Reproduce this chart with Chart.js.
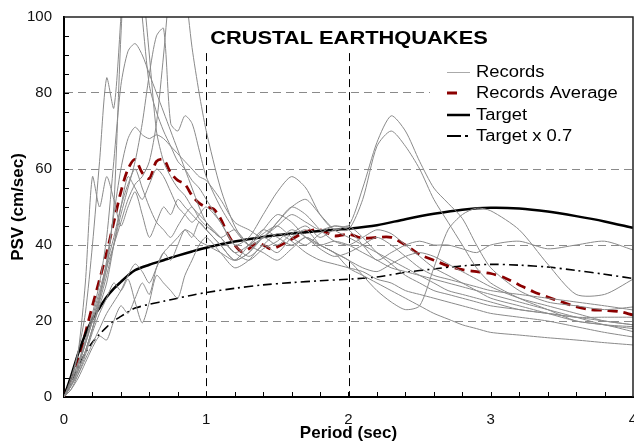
<!DOCTYPE html>
<html>
<head>
    <title>Crustal Earthquakes PSV</title>
    <script src="https://cdn.jsdelivr.net/npm/chart.js"></script>
    <style>
        body { margin: 0; background: #fff; }
    </style>
</head>
<body>
    <canvas id="psvChart" width="634" height="445"></canvas>

    <script>
        // shared period grid for the records
        const period = [0, 0.05, 0.1, 0.15, 0.2, 0.25, 0.3, 0.35, 0.4, 0.45,
            0.5, 0.55, 0.6, 0.65, 0.7, 0.75, 0.8, 0.85, 0.9, 0.95,
            1.0, 1.1, 1.2, 1.3, 1.4, 1.5, 1.6, 1.7, 1.8, 1.9,
            2.0, 2.1, 2.2, 2.3, 2.4, 2.5, 2.6, 2.7, 2.8, 2.9,
            3.0, 3.2, 3.4, 3.6, 3.8, 4.0];

        const records = [
            [0,3,8,14,20,26,34,50,95,125, 120,100,82,75,70,66,62,60,57,55, 52,46,40,37,40,43,41,38,36,35, 34,33,31,30,28,27,26,25,24,23, 22,21,20,18.5,17,15.8],
            [0,4,9,15,22,30,42,62,82,91, 93,90,85,80,75,70,65,60,55,50, 46,42,44,40,38,36,39,42,40,38, 36,34,33,35,37,38,37,35,33,31, 29,26,24,22,20,19],
            [0,5,12,22,40,62,84,76,100,130, 125,110,90,70,62,58,55,53,50,48, 46,42,38,36,39,41,44,42,39,37, 38,40,42,40,37,34,32,31,30,29, 28,27,26,25,24,22.9],
            [0,3,7,12,18,25,32,40,48,55, 62,72,85,95,97,72,70,74,72,65, 58,50,44,40,42,46,50,48,44,41, 40,42,44,43,40,37,34,32,30,28, 26,24,22,20,19,18.5],
            [0,4,9,14,20,27,34,40,46,52, 56,58,62,72,90,110,118,108,92,80, 70,55,45,40,44,48,46,42,40,41, 40,38,36,34,33,32,31,30,29,28, 27,25,23,21,19,18],
            [0,3,7,12,18,26,36,48,60,68, 71,69,68,69,68,66,64,62,60,58, 57,52,46,44,42,46,50,52,48,44, 42,40,38,36,34,32,30,28,27,26, 25,23,22,21,20,19],
            [0,2,6,11,17,22,26,30,28,31, 25,19.5,25,32,30,28,26,32,36,40, 42,38,34,36,40,38,42,44,40,38, 34,32,30,28,26,24,22,20.5,19,18, 17,16.3,15.6,15,14.3,13.7],
            [0,2,5,9,13,16,15,20,24,22, 26,30,27,34,38,36,40,44,42,46, 44,40,36,38,42,45,48,46,44,45, 44,40,36,38,40,41,40,40,39,38, 40,41,39,40,41,38.7],
            [0,3,7,12,18,24,30,40,50,58, 55,52,56,60,58,54,50,48,46,48, 50,46,40,42,48,54,58,55,48,44, 45,42,38,35,32,30,28,27,26,25, 24,23,22,21,21,21],
            [0,3,8,14,21,28,35,42,50,56, 60,55,50,46,44,42,45,48,50,47, 45,42,38,40,43,45,42,40,43,45, 45,55,67,74,70,62,55,51,47,40, 34,28,25,24,23,23.7],
            [0,4,12,30,58,50,58,52,45,50, 54,48,42,46,50,48,52,50,48,46, 44,40,36,38,42,40,43,45,42,44, 44,52,66,70,66,60,52,46,40,34, 30,26,23,20,19,17.2],
            [0,3,6,10,14,18,22,25,28,32, 35,33,30,34,38,40,42,44,43,41, 40,38,36,40,44,42,40,42,40,38, 36,32,28,25,23,24,34,44,48,49.7, 49,44,35,27,27,31]
        ];

        const avgPeriod = [0, 0.1, 0.2, 0.3, 0.35, 0.4, 0.45, 0.5, 0.55, 0.6, 0.65, 0.7, 0.75, 0.8, 0.85, 0.9, 0.95,
            1.0, 1.05, 1.1, 1.15, 1.2, 1.25, 1.3, 1.35, 1.4, 1.45, 1.5, 1.6, 1.7, 1.8, 1.9,
            2.0, 2.1, 2.2, 2.3, 2.4, 2.5, 2.6, 2.7, 2.8, 2.9, 3.0, 3.1, 3.2, 3.3, 3.4, 3.5, 3.6, 3.7, 3.8, 3.9, 4.0];
        const recordsAverage = [0, 10, 24, 38, 46, 54, 60, 62.5, 59, 57.5, 62, 62.5, 59, 57, 56, 53, 51,
            50, 49.5, 47, 43, 40, 38.2, 39, 40.5, 40, 39, 39.5, 41.5, 43.5, 44, 42.4,
            42.8, 41.8, 42, 42, 40, 37.5, 36, 34.5, 33.5, 33, 32.5, 31.3, 29.5, 27.7, 26.3, 25, 23.8, 23, 22.8, 22.5, 21.6];

        const targetPeriod = [0, 0.05, 0.1, 0.15, 0.2, 0.25, 0.3, 0.35, 0.4, 0.45, 0.5, 0.6, 0.7, 0.8, 0.9,
            1.0, 1.2, 1.4, 1.6, 1.8, 2.0, 2.2, 2.4, 2.6, 2.8, 3.0, 3.2, 3.4, 3.6, 3.8, 4.0];
        const target = [0, 5.5, 11.5, 16.5, 20.5, 23.5, 26.3, 28.5, 30.3, 32, 33.4, 34.8, 36, 37.2, 38.3,
            39.3, 40.9, 42.1, 43, 43.7, 44.3, 45.2, 46.8, 48.2, 49.3, 49.8, 49.6, 48.8, 47.6, 46.2, 44.5];
        const target07 = [0, 3.9, 8, 11.6, 14.4, 16.5, 18.4, 20, 21.2, 22.4, 23.4, 24.4, 25.2, 26, 26.8,
            27.5, 28.6, 29.5, 30.1, 30.6, 31, 31.6, 32.8, 33.7, 34.5, 34.9, 34.7, 34.2, 33.3, 32.3, 31.2];

        const xTicks = [0, 1, 2, 3, 4];
        const yTicks = [0, 20, 40, 60, 80, 100];
        const legendLabels = ['Records', 'Records Average', 'Target', 'Target x 0.7'];
        const chartTitle = 'CRUSTAL EARTHQUAKES';

        const FONT = 'Arial, "Liberation Sans", sans-serif';
        const GRAY = '#8a8a8a';
        const RED = '#8b0000';

        function pts(xs, ys) {
            return xs.map((x, i) => ({ x: x, y: ys[i] }));
        }

        const datasets = records.map(r => ({
            data: pts(period, r),
            borderColor: GRAY,
            borderWidth: 1,
            tension: 0.25
        }));
        datasets.push({
            data: pts(targetPeriod, target07),
            borderColor: '#000',
            borderWidth: 1.6,
            borderDash: [9, 4, 2, 4],
            tension: 0.3
        });
        datasets.push({
            data: pts(targetPeriod, target),
            borderColor: '#000',
            borderWidth: 2.5,
            tension: 0.3
        });
        datasets.push({
            data: pts(avgPeriod, recordsAverage),
            borderColor: RED,
            borderWidth: 2.8,
            borderDash: [10, 6],
            tension: 0.3
        });

        // title, legend, frame, minor ticks, vertical marker lines
        const decor = {
            id: 'decor',
            beforeDatasetsDraw(chart) {
                const { ctx, chartArea: a, scales: { x, y } } = chart;
                ctx.save();
                // legend box covers the grid
                ctx.fillStyle = '#fff';
                ctx.fillRect(430, 60, a.right - 431, 86);
                // dashed verticals at 1 and 2 sec
                ctx.strokeStyle = '#000';
                ctx.lineWidth = 1;
                ctx.setLineDash([8, 5]);
                [1, 2].forEach(v => {
                    const px = Math.round(x.getPixelForValue(v)) + 0.5;
                    ctx.beginPath();
                    ctx.moveTo(px, y.getPixelForValue(90.5));
                    ctx.lineTo(px, a.bottom);
                    ctx.stroke();
                });
                ctx.restore();
            },
            afterDraw(chart) {
                const { ctx, chartArea: a, scales: { x, y } } = chart;
                ctx.save();
                // frame top and right
                ctx.strokeStyle = '#222';
                ctx.lineWidth = 1.5;
                ctx.beginPath();
                ctx.moveTo(a.left, a.top);
                ctx.lineTo(a.right, a.top);
                ctx.lineTo(a.right, a.bottom);
                ctx.stroke();

                // minor ticks
                ctx.strokeStyle = '#000';
                ctx.lineWidth = 1;
                for (let v = 0.2; v < 4; v += 0.2) {
                    const px = Math.round(x.getPixelForValue(v)) + 0.5;
                    ctx.beginPath();
                    ctx.moveTo(px, a.bottom);
                    ctx.lineTo(px, a.bottom - 5);
                    ctx.stroke();
                }
                for (let v = 5; v < 100; v += 5) {
                    const py = Math.round(y.getPixelForValue(v)) + 0.5;
                    ctx.beginPath();
                    ctx.moveTo(a.left, py);
                    ctx.lineTo(a.left + 5, py);
                    ctx.stroke();
                }

                // title
                ctx.fillStyle = '#000';
                ctx.textBaseline = 'middle';
                ctx.save();
                ctx.translate(349, 39);
                ctx.scale(1.15, 1);
                ctx.font = 'bold 19px ' + FONT;
                ctx.textAlign = 'center';
                ctx.fillText(chartTitle, 0, 0);
                ctx.restore();

                // legend
                const rows = [72, 93, 115, 136];
                const x0 = 447, x1 = 470;
                ctx.lineCap = 'butt';
                ctx.strokeStyle = '#aaa';
                ctx.lineWidth = 1;
                ctx.beginPath(); ctx.moveTo(x0, rows[0] + 0.5); ctx.lineTo(x1, rows[0] + 0.5); ctx.stroke();
                ctx.strokeStyle = RED;
                ctx.lineWidth = 3;
                ctx.beginPath(); ctx.moveTo(x0, rows[1]); ctx.lineTo(x0 + 10, rows[1]); ctx.stroke();
                ctx.strokeStyle = '#000';
                ctx.lineWidth = 2.5;
                ctx.beginPath(); ctx.moveTo(x0, rows[2]); ctx.lineTo(x1, rows[2]); ctx.stroke();
                ctx.lineWidth = 2;
                ctx.beginPath(); ctx.moveTo(x0, rows[3]); ctx.lineTo(x0 + 14, rows[3]); ctx.stroke();
                ctx.beginPath(); ctx.moveTo(x0 + 18, rows[3]); ctx.lineTo(x0 + 21, rows[3]); ctx.stroke();

                ctx.fillStyle = '#000';
                ctx.textAlign = 'left';
                legendLabels.forEach((t, i) => {
                    ctx.save();
                    ctx.translate(476, rows[i]);
                    ctx.scale(1.15, 1);
                    ctx.font = '16px ' + FONT;
                    ctx.fillText(t, 0, 1);
                    ctx.restore();
                });
                ctx.restore();
            }
        };

        const ctx = document.getElementById('psvChart').getContext('2d');
        new Chart(ctx, {
            type: 'scatter',
            data: { datasets: datasets },
            plugins: [decor],
            options: {
                responsive: false,
                animation: false,
                showLine: true,
                elements: { point: { radius: 0 } },
                layout: { padding: { top: 17, right: 1, left: 0, bottom: 0 } },
                plugins: {
                    legend: { display: false },
                    tooltip: { enabled: false }
                },
                scales: {
                    x: {
                        type: 'linear',
                        min: 0,
                        max: 4,
                        afterFit: s => { s.height = 48; s.paddingLeft = 0; s.paddingRight = 0; },
                        afterBuildTicks: s => { s.ticks = xTicks.map(v => ({ value: v })); },
                        grid: { display: false, drawTicks: false },
                        border: { display: true, color: '#000', width: 2 },
                        ticks: {
                            padding: 14,
                            color: '#111',
                            font: { family: FONT, size: 15 }
                        },
                        title: {
                            display: true,
                            text: 'Period (sec)',
                            color: '#000',
                            padding: { top: 0, bottom: 1 },
                            font: { family: FONT, size: 17, weight: 'bold' }
                        }
                    },
                    y: {
                        type: 'linear',
                        min: 0,
                        max: 100,
                        afterFit: s => { s.width = 64; s.paddingTop = 0; s.paddingBottom = 0; },
                        afterBuildTicks: s => { s.ticks = yTicks.map(v => ({ value: v })); },
                        grid: {
                            drawTicks: false,
                            color: c => (c.tick.value > 0 && c.tick.value < 100) ? GRAY : 'rgba(0,0,0,0)',
                            lineWidth: 1
                        },
                        border: { display: true, color: '#000', width: 2, dash: [8, 5] },
                        ticks: {
                            padding: 12,
                            color: '#111',
                            font: { family: FONT, size: 15 }
                        },
                        title: {
                            display: true,
                            text: 'PSV (cm/sec)',
                            color: '#000',
                            padding: { top: 8, bottom: 0 },
                            font: { family: FONT, size: 17, weight: 'bold' }
                        }
                    }
                }
            }
        });
    </script>
</body>
</html>
